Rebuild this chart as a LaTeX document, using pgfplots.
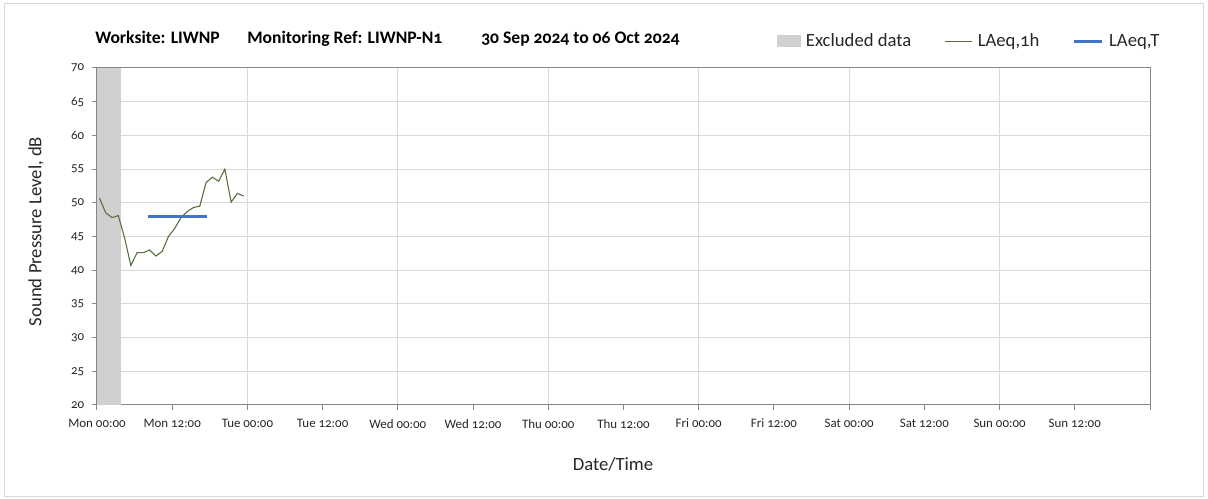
\documentclass[border=0pt]{standalone}
\usepackage{fontspec}
\setmainfont{Carlito}[Numbers=OldStyle]
\usepackage{pgfplots}
\pgfplotsset{compat=1.18}

\definecolor{exclgray}{RGB}{208,208,208}
\definecolor{gridgray}{RGB}{217,217,217}
\definecolor{axisgray}{RGB}{134,134,134}
\definecolor{laeqgreen}{RGB}{86,108,58}
\definecolor{laeqblue}{RGB}{68,114,196}

\begin{document}
\begin{tikzpicture}
% page = 1208x499 px at 0.75pt/px, origin at the plot area's lower left
\useasboundingbox (-72.75pt,-70.5pt) rectangle (833.25pt,303.75pt);
\draw[gridgray, line width=0.75pt] (-69pt,-69pt) rectangle (829.5pt,300.75pt);

\begin{axis}[
    scale only axis,
    width=789.75pt, height=252.75pt,
    xmin=0, xmax=168,
    ymin=20, ymax=70,
    xtick={0,12,...,168},
    xticklabels={Mon 00:00,Mon 12:00,Tue 00:00,Tue 12:00,Wed 00:00,Wed 12:00,Thu 00:00,Thu 12:00,Fri 00:00,Fri 12:00,Sat 00:00,Sat 12:00,Sun 00:00,Sun 12:00,},
    minor xtick={24,48,...,144},
    xminorgrids=true,
    minor tick length=0pt,
    ytick={20,25,...,70},
    ymajorgrids=true,
    grid style={gridgray, line width=0.75pt},
    minor grid style={gridgray, line width=0.75pt},
    axis line style={axisgray, line width=0.75pt},
    tick style={axisgray, line width=0.75pt},
    tick align=outside,
    major tick length=4pt,
    xtick pos=bottom, ytick pos=left,
    /pgf/number format/assume math mode=true,
    ticklabel style={font=\fontsize{9.7}{11}\selectfont, text=black!85},
    xticklabel style={yshift=-3pt},
    yticklabel style={xshift=-2pt},
    xlabel={Date/Time},
    ylabel={Sound Pressure Level, dB},
    label style={font=\fontsize{14}{16}\selectfont, text=black!85},
    xlabel style={at={(axis description cs:0.49,-0.175)}, anchor=center},
    ylabel style={at={(axis description cs:-0.0579,0.515)}, anchor=center},
    legend style={draw=none, fill=none, inner sep=0pt,
        at={(axis description cs:0.6458,1.080)}, anchor=west,
        font=\fontsize{14}{16}\selectfont, text=black!85,
        nodes={inner sep=0pt},
        /tikz/every odd column/.append style={column sep=4pt},
        /tikz/every even column/.append style={column sep=25pt}},
    legend columns=3,
]
\addplot[fill=exclgray, draw=none,
    legend image code/.code={\fill[exclgray] (0pt,-4.5pt) rectangle (17.5pt,4.5pt);}]
  coordinates {(0,70) (3.75,70)} \closedcycle;
\addlegendentry{Excluded data}

\addplot[laeqgreen, line width=0.8pt,
    legend image code/.code={\draw[laeqgreen, line width=0.8pt] (0pt,0pt) -- (20pt,0pt);}]
  coordinates {
  (0.4,50.7) (1.4,48.5) (2.4,47.8) (3.4,48.1) (4.4,44.8) (5.4,40.7)
  (6.4,42.6) (7.4,42.6) (8.4,43.0) (9.4,42.1) (10.4,42.8) (11.4,45.0)
  (12.4,46.2) (13.4,47.8) (14.4,48.7) (15.4,49.3) (16.4,49.5) (17.4,53.0)
  (18.4,53.8) (19.4,53.2) (20.4,55.0) (21.4,50.1) (22.4,51.4) (23.4,51.0)
  };
\addlegendentry{LAeq,1h}

\addplot[laeqblue, line width=2.25pt,
    legend image code/.code={\draw[laeqblue, line width=2.25pt] (0pt,0pt) -- (21pt,0pt);}]
  coordinates {(8.2,47.9) (17.5,47.9)};
\addlegendentry{LAeq,T}
\end{axis}

\begin{scope}[every node/.style={anchor=base west, inner sep=0pt,
    font=\fontsize{13.2}{15}\selectfont\bfseries}]
\node at (-1.5pt,270.75pt) {Worksite: LIWNP};
\node at (112.5pt,270.75pt) {Monitoring Ref: LIWNP-N1};
\node at (288pt,270.75pt) {30 Sep 2024 to 06 Oct 2024};
\end{scope}
\end{tikzpicture}
\end{document}
